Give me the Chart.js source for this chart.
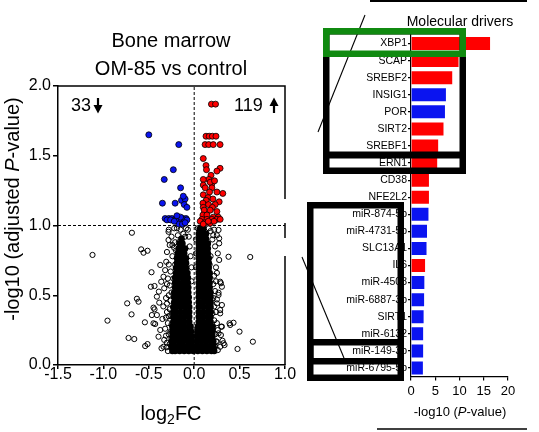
<!DOCTYPE html>
<html>
<head>
<meta charset="utf-8">
<script src="https://cdn.jsdelivr.net/npm/chart.js@4/dist/chart.umd.min.js"></script>
<style>
  html, body { margin: 0; padding: 0; background: #fff; }
  body { width: 539px; height: 432px; position: relative; overflow: hidden;
         font-family: 'Liberation Sans', Arial, sans-serif; color: #000; }
  canvas { position: absolute; top: 0; }
  #volcano { left: 0; }
  #drivers { left: 300px; }
  .txt { position: absolute; white-space: nowrap; }
  .title { left: 41px; top: 26px; width: 260px; text-align: center; font-size: 20px; line-height: 28px; }
  .count { top: 96px; font-size: 18px; line-height: 18px; }
  .xlab { left: 111px; top: 403px; width: 120px; text-align: center; font-size: 20px; line-height: 20px; }
  .xlab sub { font-size: 14px; line-height: 0; vertical-align: -4px; }
  .ylab { left: -118px; top: 197px; width: 260px; height: 24px; text-align: center; font-size: 20px; line-height: 24px;
          transform: rotate(-90deg); }
  .rtitle { left: 380px; top: 14px; width: 160px; text-align: center; font-size: 14px; line-height: 14px; }
  .rxlab { left: 380px; top: 405px; width: 160px; text-align: center; font-size: 13px; line-height: 13px; }
  svg { position: absolute; left: 0; top: 0; }
</style>
</head>
<body>
<canvas id="volcano" width="300" height="432"></canvas>
<canvas id="drivers" width="239" height="432"></canvas>

<div class="txt title">Bone marrow<br>OM-85 vs control</div>
<div class="txt count" style="left:71px">33</div>
<div class="txt count" style="left:234px">119</div>
<div class="txt xlab">log<sub>2</sub>FC</div>
<div class="txt ylab">-log10 (adjusted <i>P</i>-value)</div>
<div class="txt rtitle">Molecular drivers</div>
<div class="txt rxlab">-log10 (<i>P</i>-value)</div>

<svg width="539" height="432">
  <!-- up / down arrows next to the counts -->
  <line x1="98" y1="98" x2="98" y2="107" stroke="#000" stroke-width="2.2"/>
  <polygon points="93.5,105 102.5,105 98,113.5" fill="#000"/>
  <line x1="274" y1="113" x2="274" y2="104" stroke="#000" stroke-width="2.2"/>
  <polygon points="269.5,106 278.5,106 274,97.5" fill="#000"/>

  <rect x="282" y="199" width="7" height="24" fill="#fff"/>
  <rect x="282" y="238" width="7" height="18" fill="#fff"/>
  <line x1="370" y1="1" x2="527" y2="1" stroke="#000" stroke-width="2"/>
  <line x1="365" y1="15" x2="318" y2="132" stroke="#000" stroke-width="1.1"/>
  <line x1="302" y1="257" x2="344" y2="358" stroke="#000" stroke-width="1.1"/>
  <line x1="377" y1="429" x2="527" y2="429" stroke="#000" stroke-width="1.5"/>
  <rect x="326.25" y="31.25" width="136.5" height="123.5" fill="none" stroke="#000" stroke-width="6.5"/>
  <rect x="326.25" y="155.25" width="136.5" height="15.5" fill="none" stroke="#000" stroke-width="6.5"/>
  <rect x="326.25" y="31.25" width="136.5" height="22.5" fill="none" stroke="#108a10" stroke-width="6.5"/>
  <rect x="310.25" y="205.25" width="90.5" height="172.5" fill="none" stroke="#000" stroke-width="6.5"/>
  <rect x="310.25" y="342.25" width="90.5" height="19" fill="none" stroke="#000" stroke-width="6.5"/>
</svg>

<script>
'use strict';

// ── Volcano plot data (log2FC, -log10 adj. P) ──
const upGenes = [
  [0.19,1.87],[0.235,1.87],
  [0.13,1.64],[0.165,1.64],[0.20,1.64],[0.24,1.64],
  [0.12,1.58],[0.16,1.58],[0.21,1.58],[0.285,1.58],
  [0.10,1.48],[0.13,1.43],[0.285,1.41],[0.25,1.39],[0.135,1.40],[0.185,1.36],
  [0.16,1.33],[0.10,1.33],[0.10,1.29],[0.195,1.30],[0.176,1.31],[0.224,1.32],[0.315,1.23],
  [0.121,1.27],[0.195,1.27],[0.10,1.22],[0.169,1.24],[0.25,1.24],[0.152,1.20],
  [0.132,1.18],[0.206,1.19],[0.275,1.17],[0.096,1.16],[0.158,1.15],[0.231,1.15],
  [0.10,1.13],[0.20,1.13],[0.11,1.11],[0.176,1.11],[0.25,1.10],
  [0.096,1.075],[0.14,1.075],[0.21,1.06],[0.265,1.06],
  [0.085,1.044],[0.14,1.044],[0.195,1.044],[0.25,1.044],[0.286,1.044],
  [0.066,1.03],[0.121,1.02],[0.176,1.016],[0.218,1.03],[0.10,1.01],[0.155,1.03]
];
const downGenes = [
  [-0.50,1.65],[-0.17,1.58],[-0.23,1.40],[-0.33,1.33],[-0.15,1.27],
  [-0.35,1.16],[-0.21,1.16],[-0.14,1.18],[-0.10,1.19],[-0.11,1.15],[-0.08,1.13],[-0.12,1.21],
  [-0.32,1.05],[-0.28,1.05],[-0.245,1.05],[-0.20,1.05],[-0.16,1.05],[-0.125,1.05],[-0.09,1.05],
  [-0.30,1.04],[-0.26,1.04],[-0.18,1.04],[-0.14,1.04],[-0.11,1.04],[-0.08,1.04],
  [-0.17,1.01],[-0.13,1.01],[-0.22,1.03],[-0.10,1.02],[-0.15,1.06],[-0.19,1.07]
];
const otherGenes = [
  // left outliers
  [-0.686,0.948],[-1.12,0.789],[-0.584,0.829],[-0.558,0.805],[-0.514,0.819],[-0.47,0.665],
  [-0.374,0.717],[-0.477,0.561],[-0.437,0.566],[-0.631,0.475],[-0.613,0.454],[-0.738,0.442],
  [-0.69,0.363],[-0.955,0.318],[-0.543,0.306],[-0.723,0.194],[-0.66,0.186],[-0.54,0.136],
  [-0.514,0.15],[-0.448,0.411],
  // left fringe
  [-0.308,0.74],[-0.30,0.81],[-0.283,0.896],[-0.283,0.955],[-0.338,0.633],[-0.363,0.597],
  [-0.389,0.526],[-0.411,0.49],[-0.385,0.447],[-0.437,0.399],[-0.411,0.358],[-0.43,0.294],
  [-0.374,0.251],[-0.393,0.203],[-0.338,0.131],[-0.301,0.127],[-0.466,0.358],[-0.448,0.299],
  [-0.33,0.55],[-0.31,0.48],[-0.34,0.42],[-0.30,0.38],[-0.35,0.33],[-0.29,0.30],[-0.32,0.26],
  [-0.28,0.22],[-0.33,0.18],[-0.27,0.15],[-0.29,0.10],[-0.25,0.12],[-0.36,0.12],[-0.26,0.67],
  [-0.29,0.62],[-0.27,0.57],[-0.25,0.52],[-0.26,0.46],[-0.27,0.40],[-0.25,0.35],[-0.25,0.29],
  [-0.26,0.24],[-0.25,0.19],[-0.24,0.78],[-0.22,0.84],[-0.21,0.72],[-0.23,0.62],
  [-0.28,0.97],[-0.22,0.98],[-0.15,0.97],[-0.09,0.98],[-0.25,0.92],[-0.18,0.93],[-0.12,0.94],
  [-0.06,0.92],[-0.27,0.86],[-0.21,0.88],[-0.05,0.85],[-0.04,0.78],[-0.19,0.98],[-0.07,0.97],
  [-0.03,0.70],[-0.03,0.60],
  [-0.28,0.50],[-0.30,0.44],[-0.28,0.35],[-0.31,0.21],[-0.30,0.16],[-0.32,0.68],[-0.28,0.72],
  [-0.24,0.86],[-0.20,0.82],[-0.17,0.88],[-0.14,0.90],[-0.10,0.92],[-0.30,0.58],[-0.31,0.34],
  // right outliers and fringe
  [0.378,0.776],[0.617,0.774],[0.389,0.299],[0.433,0.303],[0.499,0.239],[0.646,0.167],
  [0.477,0.115],[0.334,0.143],[0.312,0.174],[0.294,0.215],[0.294,0.586],[0.268,0.518],
  [0.25,0.442],[0.286,0.394],[0.297,0.275],[0.268,0.227],[0.25,0.167],[0.231,0.131],
  [0.268,0.968],[0.275,0.908],[0.275,0.872],[0.275,0.753],[0.286,0.597],[0.305,0.561],
  [0.268,0.502],[0.305,0.43],[0.286,0.37],[0.396,0.287],[0.305,0.275],[0.323,0.156],
  [0.286,0.131],[0.26,0.107],
  [0.04,0.98],[0.10,0.99],[0.16,0.98],[0.22,0.97],[0.25,0.93],[0.20,0.90],[0.23,0.85],
  [0.02,0.90],[0.26,0.80],[0.24,0.70],[0.22,0.64],[0.21,0.58],[0.23,0.53],[0.21,0.48],
  [0.22,0.42],[0.20,0.37],[0.22,0.32],[0.21,0.27],[0.23,0.22],[0.24,0.17],[0.22,0.12],
  [0.18,0.78],[0.17,0.72],[0.02,0.80],[0.02,0.70],
  [0.24,0.60],[0.25,0.47],[0.24,0.38],[0.25,0.30],[0.26,0.25],[0.21,0.93],[0.18,0.96],[0.25,0.66]
];
// dense core, where the open circles pile up into solid black (rows of y, with x values)
const coreY = [0.10,0.135,0.17,0.205,0.24,0.275,0.31,0.345,0.38,0.415,0.45,0.485,0.52,
               0.555,0.59,0.625,0.66,0.695,0.73,0.765,0.80,0.835,0.87,0.905,0.94,0.975];
const coreX = [
  [-0.24,-0.21,-0.16,-0.11,-0.06,-0.01,0.04,0.09,0.14,0.19,0.22],
  [-0.25,-0.22,-0.17,-0.12,-0.07,-0.02,0.03,0.08,0.13,0.18,0.21],
  [-0.25,-0.22,-0.17,-0.12,-0.07,-0.03,0.03,0.08,0.13,0.18,0.21],
  [-0.24,-0.21,-0.16,-0.11,-0.06,-0.03,0.03,0.08,0.13,0.18,0.20],
  [-0.24,-0.21,-0.16,-0.11,-0.06,-0.035,0.035,0.08,0.13,0.18,0.20],
  [-0.24,-0.21,-0.16,-0.11,-0.06,-0.04,0.04,0.08,0.13,0.17,0.20],
  [-0.23,-0.20,-0.16,-0.11,-0.055,0.05,0.10,0.15,0.18],
  [-0.23,-0.20,-0.15,-0.10,-0.055,0.05,0.10,0.15,0.18],
  [-0.23,-0.20,-0.15,-0.10,-0.055,0.05,0.10,0.15,0.18],
  [-0.23,-0.20,-0.15,-0.10,-0.055,0.05,0.10,0.15,0.18],
  [-0.22,-0.19,-0.14,-0.10,-0.06,0.05,0.10,0.15,0.18],
  [-0.22,-0.19,-0.14,-0.10,-0.06,0.05,0.10,0.14,0.18],
  [-0.22,-0.19,-0.14,-0.10,-0.065,0.05,0.10,0.14,0.18],
  [-0.21,-0.18,-0.13,-0.09,-0.065,0.05,0.095,0.14,0.17],
  [-0.21,-0.18,-0.13,-0.09,-0.07,0.05,0.095,0.14,0.17],
  [-0.21,-0.18,-0.13,-0.09,-0.07,0.05,0.09,0.13,0.17],
  [-0.20,-0.17,-0.13,-0.09,-0.075,0.05,0.09,0.13,0.17],
  [-0.20,-0.17,-0.13,-0.09,0.05,0.09,0.13,0.16],
  [-0.19,-0.16,-0.12,-0.09,0.05,0.09,0.12,0.16],
  [-0.19,-0.16,-0.12,-0.09,0.05,0.09,0.12,0.16],
  [-0.18,-0.15,-0.11,0.05,0.09,0.12,0.15],
  [-0.17,-0.14,-0.10,0.05,0.09,0.11,0.15],
  [-0.16,-0.13,0.05,0.09,0.12,0.15],
  [-0.14,0.05,0.09,0.13],
  [0.05,0.10,0.13],
  [0.06,0.10]
];
const FC_RANGE = [-1.5, 1.0];
const P_RANGE  = [0, 2.0];
const P_CUTOFF = 1.0;

// ── Molecular drivers data ──
const driverNames = ['XBP1','SCAP','SREBF2','INSIG1','POR','SIRT2','SREBF1','ERN1','CD38','NFE2L2',
  'miR-874-5p','miR-4731-5p','SLC13A1','IL6','miR-4508','miR-6887-3p','SIRT1','miR-6132','miR-149-3p','miR-6795-5p'];
const driverValues = [16.3,9.8,8.5,7.2,7.0,6.7,5.6,5.4,3.7,3.7,3.6,3.3,3.2,2.9,2.75,2.7,2.6,2.5,2.5,2.45];
const driverUp = [1,1,1,0,0,1,1,1,1,1,0,0,0,1,0,0,0,0,0,0];
const driverTicks = [0, 5, 10, 15, 20];

const RED  = '#ff0000';
const BLUE = '#0a14f0';

Chart.defaults.font.family = "'Liberation Sans', Arial, sans-serif";
Chart.defaults.color = '#000';

const toXY = arr => arr.map(p => ({ x: p[0], y: p[1] }));
const corePts = [];
coreY.forEach((y, i) => coreX[i].forEach(x => corePts.push({ x, y })));

// top + right border of the volcano panel
const frame = {
  id: 'frame',
  afterDatasetsDraw(chart) {
    const { ctx, chartArea: a } = chart;
    ctx.save();
    ctx.strokeStyle = '#000';
    ctx.lineWidth = 1.5;
    ctx.beginPath();
    ctx.moveTo(a.left, a.top);
    ctx.lineTo(a.right, a.top);
    ctx.lineTo(a.right, a.bottom);
    ctx.stroke();
    ctx.restore();
  }
};

const axisGrid = (len) => ({ display: true, drawOnChartArea: false, drawTicks: true, tickLength: len, color: '#000', lineWidth: 1.5 });

new Chart(document.getElementById('volcano'), {
  type: 'scatter',
  data: {
    datasets: [
      { data: [{ x: 0, y: P_RANGE[0] }, { x: 0, y: P_RANGE[1] }], showLine: true, borderColor: '#000',
        borderWidth: 1, borderDash: [3, 2], pointRadius: 0, order: 6 },
      { data: [{ x: FC_RANGE[0], y: P_CUTOFF }, { x: FC_RANGE[1], y: P_CUTOFF }], showLine: true, borderColor: '#000',
        borderWidth: 1, borderDash: [3, 2], pointRadius: 0, order: 6 },
      { data: corePts, pointRadius: 3.3, backgroundColor: '#000', borderColor: '#000', pointBorderWidth: 0, order: 4 },
      { data: toXY(otherGenes), pointRadius: 2.6, backgroundColor: 'rgba(0,0,0,0)', borderColor: '#000', pointBorderWidth: 1, order: 3 },
      { data: toXY(downGenes), pointRadius: 3, backgroundColor: BLUE, borderColor: '#000', pointBorderWidth: 0.8, order: 2 },
      { data: toXY(upGenes), pointRadius: 3, backgroundColor: RED, borderColor: '#000', pointBorderWidth: 0.8, order: 1 }
    ]
  },
  options: {
    responsive: false,
    animation: false,
    events: [],
    layout: { padding: { top: 86, right: 15, bottom: 0, left: 0 } },
    plugins: { legend: { display: false }, tooltip: { enabled: false } },
    scales: {
      x: {
        type: 'linear', min: FC_RANGE[0], max: FC_RANGE[1],
        afterFit: s => { s.height = 67; },
        grid: axisGrid(4),
        border: { display: true, color: '#000', width: 1.5 },
        ticks: { stepSize: 0.5, padding: -2, font: { size: 16, lineHeight: 1 }, callback: v => v.toFixed(1), maxRotation: 0 }
      },
      y: {
        type: 'linear', min: P_RANGE[0], max: P_RANGE[1],
        afterFit: s => { s.width = 58; },
        grid: axisGrid(5),
        border: { display: true, color: '#000', width: 1.5 },
        ticks: { stepSize: 0.5, padding: 2, font: { size: 16 }, callback: v => v.toFixed(1) }
      }
    }
  },
  plugins: [frame]
});

new Chart(document.getElementById('drivers'), {
  type: 'bar',
  data: {
    labels: driverNames,
    datasets: [{
      data: driverValues,
      backgroundColor: driverUp.map(u => u ? RED : BLUE),
      barPercentage: 0.76,
      categoryPercentage: 1
    }]
  },
  options: {
    indexAxis: 'y',
    responsive: false,
    animation: false,
    events: [],
    layout: { padding: { top: 35, right: 31, bottom: 0, left: 0 } },
    plugins: { legend: { display: false }, tooltip: { enabled: false } },
    scales: {
      x: {
        min: driverTicks[0], max: driverTicks[driverTicks.length - 1],
        afterFit: s => { s.height = 55.5; },
        afterBuildTicks: s => { s.ticks = driverTicks.map(v => ({ value: v })); },
        grid: { display: true, drawOnChartArea: false, drawTicks: true, tickLength: 4, color: '#000', lineWidth: 1.2 },
        border: { display: true, color: '#000', width: 1.2 },
        ticks: { padding: 4, font: { size: 13, lineHeight: 1 }, maxRotation: 0 }
      },
      y: {
        afterFit: s => { s.width = 111; },
        grid: { display: true, drawOnChartArea: false, drawTicks: true, tickLength: 3, color: '#000', lineWidth: 1.2, offset: false },
        border: { display: true, color: '#000', width: 1.2 },
        ticks: { padding: 1, font: { size: 10.5 }, autoSkip: false }
      }
    }
  }
});
</script>
</body>
</html>
